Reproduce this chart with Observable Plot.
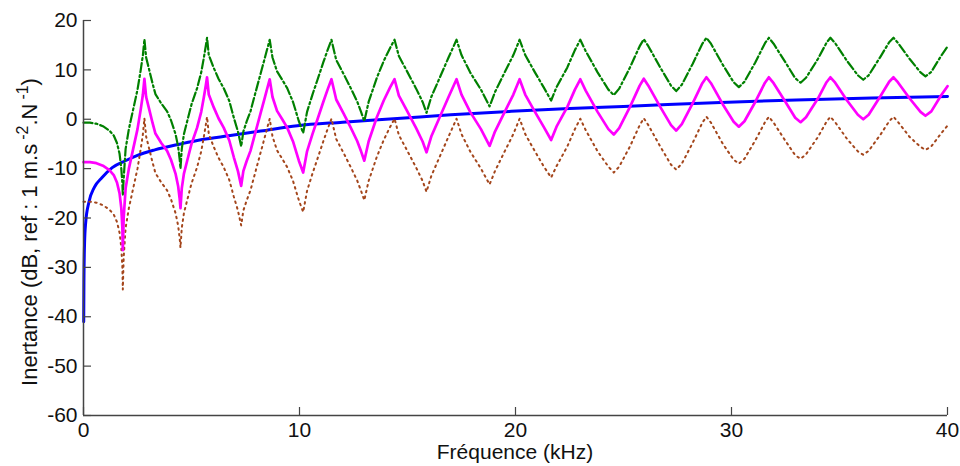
<!DOCTYPE html>
<html><head><meta charset="utf-8">
<script src="https://cdn.jsdelivr.net/npm/d3@7"></script>
<script src="https://cdn.jsdelivr.net/npm/@observablehq/plot@0.6"></script>
<style>
html,body{margin:0;padding:0;background:#fff;}
#chart svg{display:block;}
</style></head><body><div id="chart"></div>
<script>
// Frequency samples (kHz) shared by the three oscillating inertance curves
const freqKHz = [
  0,0.3,0.6,0.9,1.2,1.4,1.55,1.67,1.75,1.8,1.82,
  1.86,1.95,2.1,2.3,2.5,2.65,2.75,2.82,
  2.9,3.02,3.2,3.33,3.6,3.87,4.05,4.26,4.38,4.45,4.49,
  4.55,4.65,4.8,5.0,5.26,5.45,5.57,5.66,5.72,
  5.8,6.03,6.25,6.49,6.75,6.96,7.15,7.3,
  7.4,7.55,7.73,7.95,8.19,8.4,8.62,
  8.75,8.96,9.2,9.43,9.7,9.97,10.17,
  10.35,10.6,10.81,11.1,11.3,11.48,
  11.7,12.05,12.35,12.67,12.85,13.0,
  13.2,13.58,13.9,14.2,14.4,
  14.6,14.98,15.4,15.7,15.88,
  16.1,16.5,16.9,17.27,
  17.5,17.9,18.4,18.8,
  19.05,19.5,19.9,20.19,
  20.45,20.9,21.3,21.65,
  21.9,22.4,22.75,23.0,
  23.25,23.8,24.3,24.55,
  24.8,25.3,25.75,25.94,
  26.15,26.7,27.2,27.44,
  27.7,28.2,28.65,28.84,
  29.05,29.6,30.1,30.34,
  30.6,31.1,31.55,31.73,
  31.95,32.5,32.95,33.2,
  33.45,34.0,34.4,34.58,
  34.8,35.35,35.85,36.1,
  36.35,36.9,37.3,37.5,
  37.7,38.25,38.75,38.98,
  39.25,39.7,40.0
];
// Magenta solid curve (dB)
const magentaDb = [
  -8.7,-8.7,-8.9,-9.4,-10.3,-11.3,-12.8,-15,-18,-22,-26.5,
  -20,-14,-10,-6,-2,2,5,8.2,
  4.5,2.4,-0.8,-2.9,-4.8,-6.4,-8.2,-11,-13.5,-16,-18,
  -14,-11,-8.4,-5,-1.7,1.5,4.4,6.8,8.5,
  5,2.4,0.2,-1.7,-4.3,-7.7,-10.5,-13.5,
  -10.5,-8.5,-6.4,-2.8,1.1,4.5,8.1,
  4.5,1.7,0,-1.7,-4.5,-8.4,-10.8,
  -6.5,-3,-0.3,3.5,6,8.1,
  4,1.1,-1.5,-4.4,-6.5,-8.4,
  -4.5,0.4,3.8,6.5,8.1,
  4.8,1.7,-1.8,-4.5,-6.7,
  -3.5,0.5,4.5,8.1,
  5,1.5,-2,-5.4,
  -2.5,1.5,5,8.1,
  5,1.5,-1.5,-4.2,
  -1.5,2.5,6,8.1,
  5.8,1.5,-2,-3.1,
  -1.8,2.5,6.8,8.2,
  6.8,2.5,-1.2,-2.3,
  -1.0,3.2,7.3,8.5,
  7.3,3,-0.5,-1.5,
  -0.4,3.5,7.4,8.5,
  7.3,3.5,0.3,-0.6,
  0.4,4.2,7.5,8.5,
  7.4,3.8,0.9,0.0,
  0.9,4.7,7.6,8.5,
  7.5,4.2,1.5,0.7,
  1.6,4.8,6.7
];
// Green dash-dot curve (dB)
const greenDb = [
  -0.7,-0.7,-0.9,-1.4,-2.3,-3.3,-4.8,-7,-10,-13,-15.5,
  -12,-6,-2,2,6,10,13,16.2,
  12.5,10.4,7.2,5.1,3.2,1.6,-0.2,-3,-5.5,-8,-10,
  -6,-3,-0.4,3,6.3,9.5,12.4,14.8,16.5,
  13,10.4,8.2,6.3,3.7,0.3,-2.5,-5.5,
  -2.5,-0.5,1.6,5.2,9.1,12.5,16.1,
  12.5,9.7,8,6.3,3.5,-0.4,-2.8,
  1.5,5,7.7,11.5,14,16.1,
  12,9.1,6.5,3.6,1.5,-0.4,
  3.5,8.4,11.8,14.5,16.1,
  12.8,9.7,6.2,3.5,1.3,
  4.5,8.5,12.5,16.1,
  13,9.5,6,2.6,
  5.5,9.5,13,16.1,
  13,9.5,6.5,3.8,
  6.5,10.5,14,16.1,
  13.8,9.5,6,4.9,
  6.2,10.5,14.8,16.2,
  14.8,10.5,6.8,5.7,
  7,11.2,15.3,16.5,
  15.3,11,7.5,6.5,
  7.6,11.5,15.4,16.5,
  15.3,11.5,8.3,7.4,
  8.4,12.2,15.5,16.5,
  15.4,11.8,8.9,8.0,
  8.9,12.7,15.6,16.5,
  15.5,12.2,9.5,8.7,
  9.6,12.8,14.7
];
// Brown dotted curve (dB)
const brownDb = [
  -16.7,-16.7,-16.9,-17.4,-18.3,-19.3,-20.8,-23,-26,-30,-34.5,
  -28,-22,-18,-14,-10,-6,-3,0.2,
  -3.5,-5.6,-8.8,-10.9,-12.8,-14.4,-16.2,-19,-21.5,-24,-26,
  -22,-19,-16.4,-13,-9.7,-6.5,-3.6,-1.2,0.5,
  -3,-5.6,-7.8,-9.7,-12.3,-15.7,-18.5,-21.5,
  -18.5,-16.5,-14.4,-10.8,-6.9,-3.5,0.1,
  -3.5,-6.3,-8,-9.7,-12.5,-16.4,-18.8,
  -14.5,-11,-8.3,-4.5,-2,0.1,
  -4,-6.9,-9.5,-12.4,-14.5,-16.4,
  -12.5,-7.6,-4.2,-1.5,0.1,
  -3.2,-6.3,-9.8,-12.5,-14.7,
  -11.5,-7.5,-3.5,0.1,
  -3,-6.5,-10,-13.2,
  -10.5,-6.5,-3,0.1,
  -3,-6.5,-9.5,-11.8,
  -9.5,-5.5,-2,0.1,
  -2.2,-6.5,-9.6,-10.8,
  -9.6,-5.5,-1.2,0.2,
  -1.2,-5.5,-9.2,-10.2,
  -9,-4.8,-0.7,0.5,
  -0.7,-5,-8.2,-9.0,
  -8.0,-4.3,-0.6,0.5,
  -0.7,-4.4,-7.3,-8.0,
  -7.1,-3.6,-0.5,0.5,
  -0.6,-4.0,-6.5,-7.2,
  -6.4,-3.1,-0.4,0.5,
  -0.5,-3.6,-5.6,-6.2,
  -5.5,-2.9,-1.3
];
// Blue solid curve
const blueFreqKHz = [0.01,0.02,0.05,0.1,0.25,0.5,0.86,1.33,1.94,2.5,3.3,4.49,5.5,6.8,8.2,9.9,12,14.7,17,19.8,22.5,25,29.5,33,36.5,40];
const blueDb      = [-41,-33,-25,-21,-16.8,-13.8,-11.8,-9.8,-8.4,-7.3,-6.2,-5.0,-4.1,-3.3,-2.4,-1.3,-0.6,0.2,0.9,1.6,2.2,2.6,3.4,3.9,4.3,4.6];

const xTicks = [0,10,20,30,40];
const yTicks = [-60,-50,-40,-30,-20,-10,0,10,20];
const xLabel = "Fréquence (kHz)";
const yLabelMain = "Inertance (dB, ref : 1 m.s";
const yLabelSup1 = "-2";
const yLabelMid = ".N";
const yLabelSup2 = "-1";
const yLabelEnd = ")";

const rows = freqKHz.map((f, i) => ({f, m: magentaDb[i], g: greenDb[i], b: brownDb[i]}));
const blueRows = blueFreqKHz.map((f, i) => ({f, v: blueDb[i]}));

const W = 960, H = 466, ML = 83, MR = 13, MT = 20, MB = 51;
const axisColor = "#444";
const font = "'Liberation Sans', Arial, sans-serif";

const chart = Plot.plot({
  width: W, height: H,
  marginLeft: ML, marginRight: MR, marginTop: MT, marginBottom: MB,
  style: {fontFamily: font, fontSize: "21px", color: "#111", background: "#fff"},
  x: {domain: [0, 40]},
  y: {domain: [-60, 20]},
  marks: [
    Plot.lineY(blueRows, {x: "f", y: "v", stroke: "#0000ff", strokeWidth: 3, curve: "monotone-x"}),
    Plot.lineY(rows, {x: "f", y: "b", stroke: "#a4461c", strokeWidth: 2, strokeDasharray: "1.6,4.2"}),
    Plot.lineY(rows, {x: "f", y: "g", stroke: "#008000", strokeWidth: 2.2, strokeDasharray: "9,3,2,3"}),
    Plot.lineY(rows, {x: "f", y: "m", stroke: "#ff00ff", strokeWidth: 2.7}),
    Plot.tickX(xTicks, {x: d => d, stroke: axisColor, strokeWidth: 1.2, insetTop: (H - MT - MB) - 8}),
    Plot.tickY(yTicks, {y: d => d, stroke: axisColor, strokeWidth: 1.2, insetRight: (W - ML - MR) - 8}),
    Plot.ruleX([0], {stroke: axisColor, strokeWidth: 1.5}),
    Plot.ruleY([-60], {stroke: axisColor, strokeWidth: 1.5}),
    Plot.axisX(xTicks, {tickSize: 0, tickPadding: 7, label: null, tickFormat: d => String(d)}),
    Plot.axisY(yTicks, {tickSize: 0, tickPadding: 6, label: null, tickFormat: d => String(d)})
  ]
});
document.getElementById("chart").appendChild(chart);

const svg = d3.select(chart);
svg.append("text")
  .attr("x", (ML + W - MR) / 2).attr("y", 459)
  .attr("text-anchor", "middle").attr("fill", "#111")
  .style("font-family", font).style("font-size", "21px")
  .text(xLabel);

const yl = svg.append("text")
  .attr("transform", `translate(37, 232) rotate(-90)`)
  .attr("text-anchor", "middle").attr("fill", "#111")
  .style("font-family", font).style("font-size", "22px");
yl.append("tspan").text(yLabelMain);
yl.append("tspan").attr("dy", -9).attr("dx", 4).style("font-size", "16px").text(yLabelSup1);
yl.append("tspan").attr("dy", 9).text(yLabelMid);
yl.append("tspan").attr("dy", -9).attr("dx", 4).style("font-size", "16px").text(yLabelSup2);
yl.append("tspan").attr("dy", 9).text(yLabelEnd);
</script>
</body></html>
